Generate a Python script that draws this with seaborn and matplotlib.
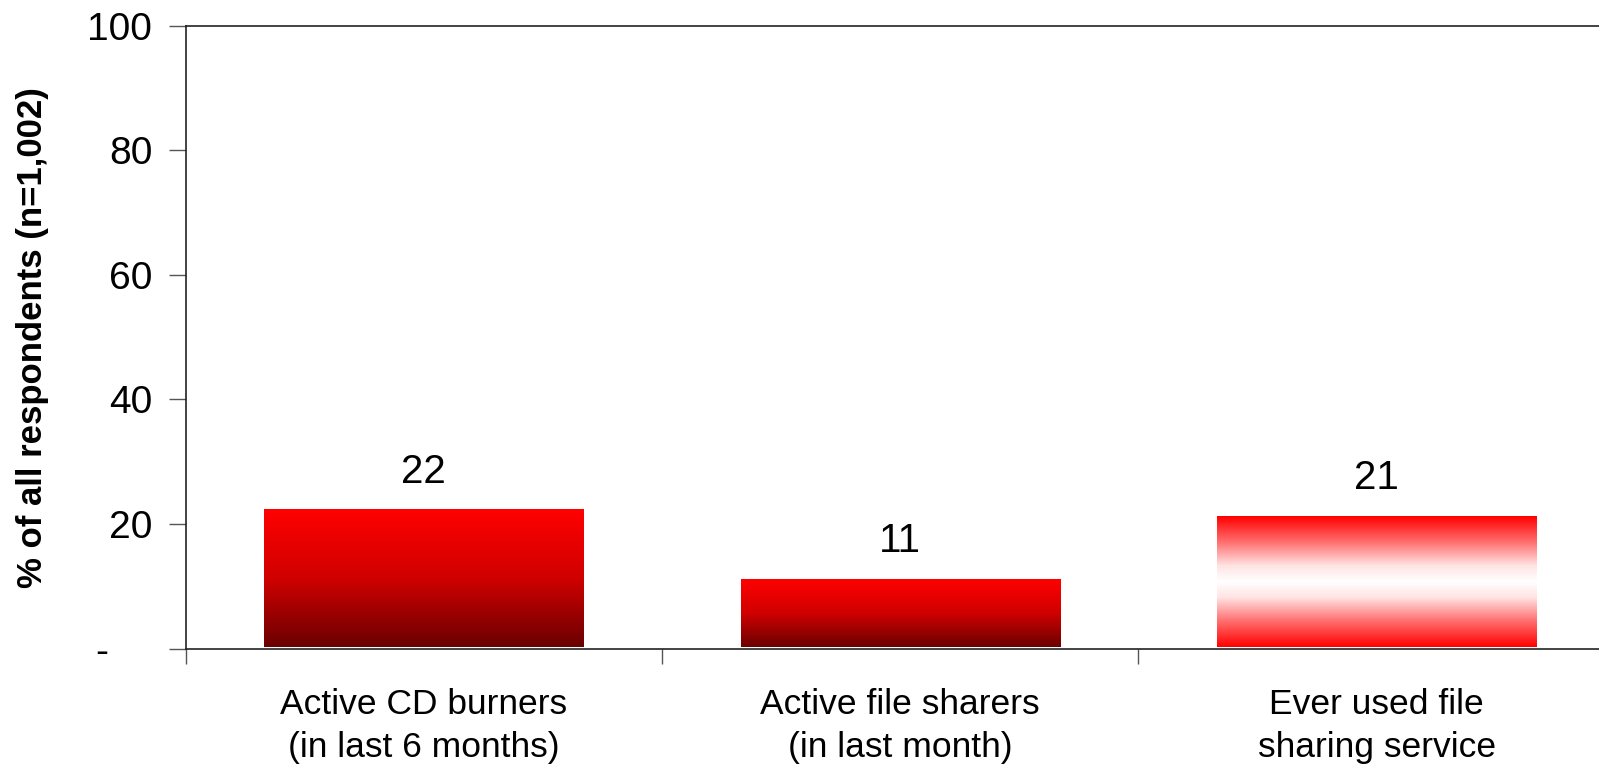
import numpy as np
import matplotlib
matplotlib.use("Agg")
import matplotlib.pyplot as plt
from matplotlib.colors import LinearSegmentedColormap
import seaborn as sns

# Data
categories = [
    "Active CD burners\n(in last 6 months)",
    "Active file sharers\n(in last month)",
    "Ever used file\nsharing service",
]
values = [22.4, 11.2, 21.3]
value_labels = ["22", "11", "21"]
y_ticks = [0, 20, 40, 60, 80, 100]
y_tick_labels = ["-    ", "20", "40", "60", "80", "100"]

sns.set_style("white")
plt.rcParams["font.family"] = ["Liberation Sans", "DejaVu Sans"]
plt.rcParams["text.color"] = "black"
plt.rcParams["xtick.color"] = "black"
plt.rcParams["ytick.color"] = "black"
plt.rcParams["axes.labelcolor"] = "black"

fig = plt.figure(figsize=(15.99, 7.64), dpi=100)
ax = fig.add_axes([0.1161, 0.151, 0.8938, 0.8156])

sns.barplot(x=categories, y=values, ax=ax, width=0.67,
            color="white", edgecolor="white", linewidth=1)

# gradient fills
dark_red = LinearSegmentedColormap.from_list("dr", ["#6a0000", "#d00000", "#ff0000"])
red_white = LinearSegmentedColormap.from_list(
    "rw", [(0, "#ff0000"), (0.2, "#ff7070"), (0.38, "#ffe4e4"), (0.5, "#ffffff"),
           (0.62, "#ffe4e4"), (0.8, "#ff7070"), (1, "#ff0000")])
cmaps = [dark_red, dark_red, red_white]
grad = np.linspace(0, 1, 256).reshape(-1, 1)

for patch, cm in zip(ax.patches, cmaps):
    x0, y0 = patch.get_x(), patch.get_y()
    w, h = patch.get_width(), patch.get_height()
    ax.imshow(grad, extent=[x0, x0 + w, y0 + 0.3, y0 + h], origin="lower",
              aspect="auto", cmap=cm, zorder=2)

for i, (v, lab) in enumerate(zip(values, value_labels)):
    ax.annotate(lab, (i, v), xytext=(0, 27), textcoords="offset points",
                ha="center", va="center", fontsize=29)

ax.set_xlim(-0.5, 2.5)
ax.set_ylim(0, 100)
ax.set_yticks(y_ticks)
ax.set_yticklabels(y_tick_labels, fontsize=28)
ax.set_xticks(range(len(categories)))
ax.set_xticklabels(categories, fontsize=25.5, linespacing=1.4)
ax.set_xticks([-0.5, 0.5, 1.5, 2.5], minor=True)

ax.tick_params(axis="x", which="major", length=0, pad=28)
ax.tick_params(axis="x", which="minor", length=11, width=1, color="#555555",
               direction="out", bottom=True)
ax.tick_params(axis="y", length=12, width=1, color="#555555",
               direction="out", left=True, pad=12)

ax.set_ylabel("% of all respondents (n=1,002)", fontsize=25,
              fontweight="bold", labelpad=28)
ax.set_xlabel("")

for side in ["left", "top", "bottom"]:
    ax.spines[side].set_visible(True)
    ax.spines[side].set_color("#222222")
    ax.spines[side].set_linewidth(1.2)
ax.spines["right"].set_visible(False)

fig.savefig("out.png", dpi=100)
